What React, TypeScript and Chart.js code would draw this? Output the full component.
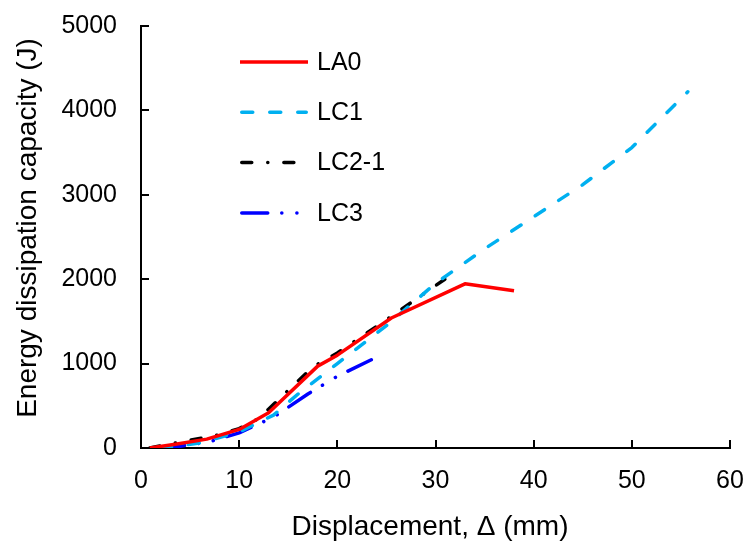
import { useEffect, useRef } from "react";
import { Chart, registerables } from "chart.js";

Chart.register(...registerables);

// ---- Data ----
const SERIES_NAMES = ["LA0", "LC1", "LC2-1", "LC3"];

const LA0_X = [0.9, 3.5, 6.7, 10, 13, 18, 20, 25.5, 33, 38];
const LA0_Y = [0, 45, 105, 220, 418, 970, 1100, 1540, 1945, 1862];

const LC1_X = [2, 6, 10, 13.5, 16, 20, 25, 30, 35, 40, 45, 50, 55.7];
const LC1_Y = [0, 60, 190, 390, 640, 1000, 1450, 1950, 2360, 2740, 3120, 3560, 4220];

const LC21_X = [0.9, 3.5, 7.7, 10, 12, 17.5, 20, 25, 31.2];
const LC21_Y = [0, 60, 150, 230, 350, 960, 1125, 1520, 2020];

const LC3_X = [1.8, 4, 7, 10, 13.5, 17, 20, 23.8];
const LC3_Y = [0, 20, 75, 180, 365, 640, 850, 1065];

const X_MIN = 0, X_MAX = 60, X_STEP = 10;
const Y_MIN = 0, Y_MAX = 5000, Y_STEP = 1000;

const X_TITLE = "Displacement, Δ (mm)";
const Y_TITLE = "Energy dissipation capacity (J)";

const FONT = "'Liberation Sans', Arial, sans-serif";

const zip = (xs: number[], ys: number[]) => xs.map((x, i) => ({ x, y: ys[i] }));

const innerTicks = {
  id: "innerTicks",
  afterDraw(chart: any) {
    const { ctx, chartArea, scales } = chart;
    const xs = scales.x, ys = scales.y;
    ctx.save();
    ctx.strokeStyle = "#000";
    ctx.lineWidth = 2;
    ctx.beginPath();
    xs.ticks.forEach((t: any) => {
      const px = Math.round(xs.getPixelForValue(t.value));
      ctx.moveTo(px, chartArea.bottom);
      ctx.lineTo(px, chartArea.bottom - 8);
    });
    ys.ticks.forEach((t: any) => {
      const py = Math.round(ys.getPixelForValue(t.value));
      ctx.moveTo(chartArea.left, py);
      ctx.lineTo(chartArea.left + 8, py);
    });
    ctx.stroke();
    ctx.restore();
  },
};

const axisTitles = {
  id: "axisTitles",
  afterDraw(chart: any, _args: any, opts: any) {
    const ctx = chart.ctx;
    ctx.save();
    ctx.fillStyle = "#000";
    ctx.font = `${opts.fontSize}px ${FONT}`;
    ctx.textAlign = "center";
    ctx.textBaseline = "middle";
    ctx.fillText(opts.xText, opts.xX, opts.xY);
    ctx.translate(opts.yX, opts.yY);
    ctx.rotate(-Math.PI / 2);
    ctx.fillText(opts.yText, 0, 0);
    ctx.restore();
  },
};

const inlineLegend = {
  id: "inlineLegend",
  afterDatasetsDraw(chart: any, _args: any, opts: any) {
    const ctx = chart.ctx;
    chart.data.datasets.forEach((ds: any, i: number) => {
      const y = opts.top + i * opts.rowGap;
      ctx.save();
      ctx.strokeStyle = ds.borderColor;
      ctx.lineWidth = ds.borderWidth;
      ctx.setLineDash(ds.borderDash || []);
      ctx.lineCap = ds.borderCapStyle || "butt";
      const inset = ctx.lineCap === "round" ? ds.borderWidth / 2 : 0;
      ctx.beginPath();
      ctx.moveTo(opts.x1 + inset, y);
      ctx.lineTo(opts.x2 - inset, y);
      ctx.stroke();
      ctx.setLineDash([]);
      ctx.fillStyle = "#000";
      ctx.font = `${opts.fontSize}px ${FONT}`;
      ctx.textBaseline = "middle";
      ctx.textAlign = "left";
      ctx.fillText(ds.label, opts.textX, y + 1);
      ctx.restore();
    });
  },
};

export default function App() {
  const canvasRef = useRef<HTMLCanvasElement | null>(null);

  useEffect(() => {
    if (!canvasRef.current) return;
    const chart = new Chart(canvasRef.current, {
      type: "line",
      data: {
        datasets: [
          {
            label: SERIES_NAMES[0],
            data: zip(LA0_X, LA0_Y),
            borderColor: "#FF0000",
            borderWidth: 3.5,
            borderCapStyle: "butt",
            borderJoinStyle: "round",
          },
          {
            label: SERIES_NAMES[1],
            data: zip(LC1_X, LC1_Y),
            borderColor: "#00B0F0",
            borderWidth: 3.5,
            borderDash: [11, 17],
            borderCapStyle: "round",
            borderJoinStyle: "round",
          },
          {
            label: SERIES_NAMES[2],
            data: zip(LC21_X, LC21_Y),
            borderColor: "#000000",
            borderWidth: 3.5,
            borderDash: [10, 16, 0.1, 16],
            borderCapStyle: "round",
            borderJoinStyle: "round",
          },
          {
            label: SERIES_NAMES[3],
            data: zip(LC3_X, LC3_Y),
            borderColor: "#0000FF",
            borderWidth: 3.5,
            borderDash: [26, 14, 0.1, 15, 0.1, 14],
            borderCapStyle: "round",
            borderJoinStyle: "round",
          },
        ] as any,
      },
      options: {
        animation: false,
        responsive: false,
        parsing: false as any,
        layout: { padding: { left: 0, right: 15, top: 26, bottom: 0 } },
        elements: { point: { radius: 0, hoverRadius: 0 }, line: { tension: 0 } },
        plugins: {
          legend: { display: false },
          tooltip: { enabled: false },
          inlineLegend: { x1: 240, x2: 308, textX: 317, top: 62, rowGap: 50.3, fontSize: 25 },
          axisTitles: {
            xText: X_TITLE, xX: 430, xY: 527,
            yText: Y_TITLE, yX: 28, yY: 228,
            fontSize: 28,
          },
        } as any,
        scales: {
          x: {
            type: "linear",
            min: X_MIN,
            max: X_MAX,
            grid: { display: false, drawTicks: false },
            border: { display: true, color: "#000", width: 2 },
            ticks: {
              stepSize: X_STEP,
              padding: 18,
              color: "#000",
              font: { family: FONT, size: 25 },
              maxRotation: 0,
              callback: (v: any) => String(v),
            },
            title: { display: false },
            afterFit: (s: any) => {
              s.height = 102;
              s.paddingLeft = 0;
              s.paddingRight = 0;
            },
          },
          y: {
            type: "linear",
            min: Y_MIN,
            max: Y_MAX,
            grid: { display: false, drawTicks: false },
            border: { display: true, color: "#000", width: 2 },
            ticks: {
              stepSize: Y_STEP,
              padding: 24,
              color: "#000",
              font: { family: FONT, size: 25 },
              callback: (v: any) => String(v),
            },
            title: { display: false },
            afterFit: (s: any) => {
              s.width = 141;
              s.paddingTop = 0;
              s.paddingBottom = 0;
            },
          },
        },
      },
      plugins: [innerTicks, inlineLegend, axisTitles],
    });
    return () => chart.destroy();
  }, []);

  return (
    <div style={{ position: "absolute", left: 0, top: 0, width: 745, height: 550, background: "#fff" }}>
      <canvas ref={canvasRef} width={745} height={550} style={{ width: 745, height: 550 }} />
    </div>
  );
}
